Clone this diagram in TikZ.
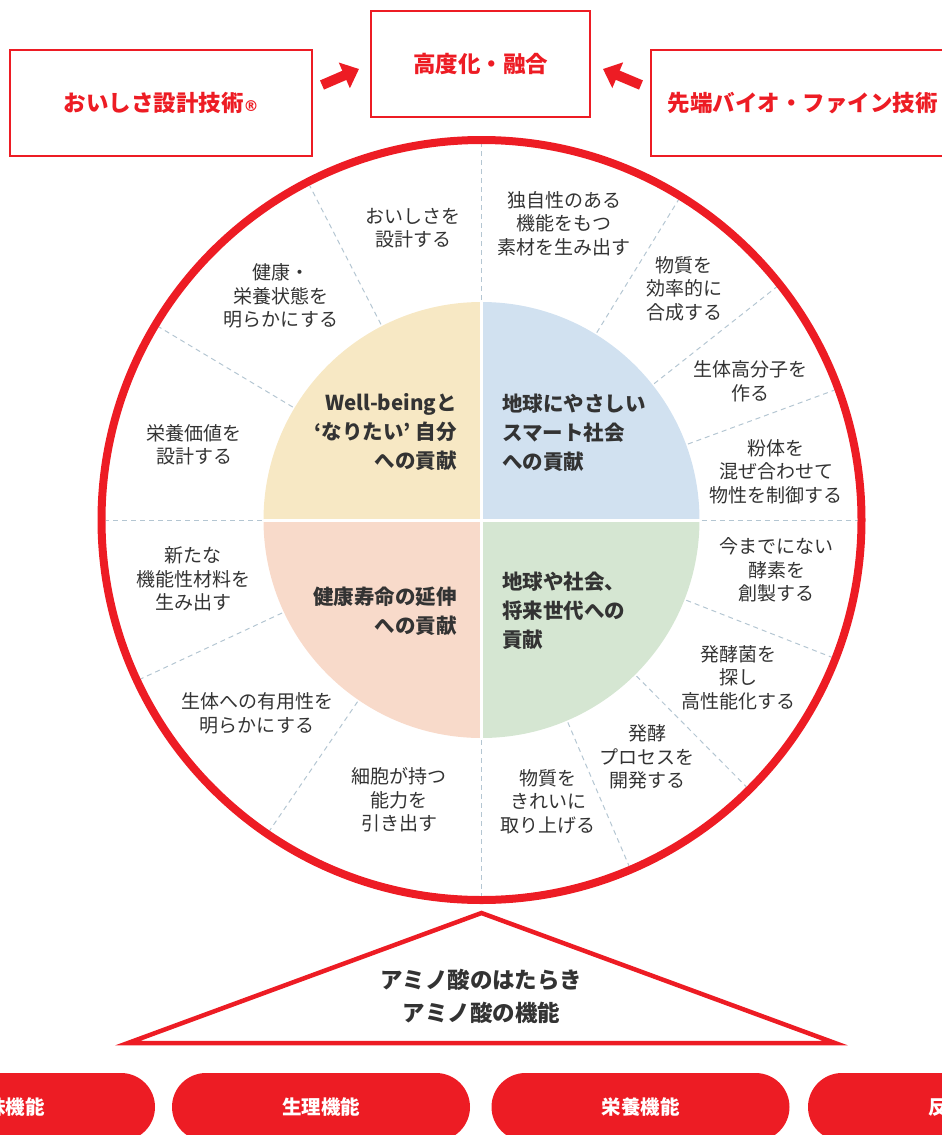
\documentclass[tikz,border=0pt]{standalone}
\usepackage{fontspec}
\newfontfamily\jp{Noto Sans CJK JP}
\newfontfamily\dv{DejaVu Sans}
\usetikzlibrary{arrows.meta,calc}
\definecolor{rd}{HTML}{ED1C24}
\definecolor{dk}{HTML}{333333}
\definecolor{qy}{HTML}{F7E8C4}
\definecolor{qb}{HTML}{D1E1F0}
\definecolor{qp}{HTML}{F8DACA}
\definecolor{qg}{HTML}{D5E6D2}
\definecolor{dsh}{HTML}{B4C6D2}
\begin{document}
\begin{tikzpicture}[x=1pt,y=-1pt,
 redbox/.style={draw=rd,line width=2.5pt,inner sep=0,text=rd,font=\jp\bfseries\fontsize{22.5}{27}\selectfont},
 sect/.style={inner sep=0,align=center,text=dk,font=\jp\fontsize{19}{23.5}\selectfont},
 quadl/.style={inner sep=0,text=dk,font=\jp\bfseries\fontsize{20.5}{29}\selectfont},
 trilabel/.style={inner sep=0,align=center,text=dk,font=\jp\bfseries\fontsize{22.5}{33}\selectfont},
 pill/.style={fill=rd,rounded corners=34pt,minimum width=298pt,minimum height=68pt,inner sep=0,text=white,font=\jp\bfseries\fontsize{19.5}{24}\selectfont},
 pilltext/.style={inner sep=0,text=white,font=\jp\bfseries\fontsize{19.5}{24}\selectfont},
 divider/.style={draw=dsh,line width=1pt,dash pattern=on 5pt off 4pt},
 blockarrow/.style={draw=rd,line width=10pt,-{Triangle[length=16pt,width=27pt]}}]
\useasboundingbox (0,0) rectangle (942,1135);
\clip (0,0) rectangle (942,1135);
\coordinate (c) at (481.5,520);

% top boxes
\node[redbox,minimum width=302pt,minimum height=106pt] (lbox) at (161,103) {おいしさ設計技術{\dv\bfseries\fontsize{15}{15}\selectfont ®}};
\node[redbox,minimum width=219pt,minimum height=106pt] (cbox) at (480.5,64) {高度化・融合};
\node[redbox,minimum width=303pt,minimum height=106pt] (rbox) at (802.5,103) {先端バイオ・ファイン技術};
\coordinate (a1s) at (322,85);
\coordinate (a1e) at (359,69);
\coordinate (a2s) at (641,85);
\coordinate (a2e) at (603,69);
\draw[blockarrow] (a1s) -- (a1e);
\draw[blockarrow] (a2s) -- (a2e);

% quadrants
\fill[qy] (c) -- ++(180:218pt) arc[start angle=180,end angle=90,radius=218pt] -- cycle;
\fill[qb] (c) -- ++(90:218pt) arc[start angle=90,end angle=0,radius=218pt] -- cycle;
\fill[qg] (c) -- ++(0:218pt) arc[start angle=0,end angle=-90,radius=218pt] -- cycle;
\fill[qp] (c) -- ++(270:218pt) arc[start angle=270,end angle=180,radius=218pt] -- cycle;
\draw[white,line width=3pt] ($(c)+(-220pt,0pt)$) -- ($(c)+(220pt,0pt)$);
\draw[white,line width=3pt] ($(c)+(0pt,-220pt)$) -- ($(c)+(0pt,220pt)$);

% dividers
\foreach \a in {0,20.2,38.3,58.4,90,117.2,149.1,180,205,235.7,270,293.1,314.8,338.6}
  \draw[divider] ($(c)+(\a:220pt)$) -- ($(c)+(\a:376pt)$);

% ring
\draw[rd,line width=8pt] (c) circle[radius=380pt];

% quadrant labels
\node[quadl,align=right,anchor=east] (qyl) at (457,431.7) {Well-beingと\\‘なりたい’ 自分\\への貢献};
\node[quadl,align=left,anchor=west] (qbl) at (502,433) {地球にやさしい\\スマート社会\\への貢献};
\node[quadl,align=right,anchor=east] (qpl) at (457,611.5) {健康寿命の延伸\\への貢献};
\node[quadl,align=left,anchor=west] (qgl) at (502,611) {地球や社会、\\将来世代への\\貢献};

% sector labels
\node[sect] (s1) at (413,228) {おいしさを\\設計する};
\node[sect] (s2) at (281,296) {健康・\\栄養状態を\\明らかにする};
\node[sect] (s3) at (194,445) {栄養価値を\\設計する};
\node[sect] (s4) at (564,223.5) {独自性のある\\機能をもつ\\素材を生み出す};
\node[sect] (s5) at (684,288.5) {物質を\\効率的に\\合成する};
\node[sect] (s6) at (750,381.5) {生体高分子を\\作る};
\node[sect] (s7) at (776,471.5) {粉体を\\混ぜ合わせて\\物性を制御する};
\node[sect] (s8) at (776.5,570) {今までにない\\酵素を\\創製する};
\node[sect] (s9) at (738,677.7) {発酵菌を\\探し\\高性能化する};
\node[sect] (s10) at (647,757) {発酵\\プロセスを\\開発する};
\node[sect] (s11) at (548,801.7) {物質を\\きれいに\\取り上げる};
\node[sect] (s12) at (399,800) {細胞が持つ\\能力を\\引き出す};
\node[sect] (s13) at (257,713.5) {生体への有用性を\\明らかにする};
\node[sect] (s14) at (193,579) {新たな\\機能性材料を\\生み出す};

% triangle
\coordinate (t1) at (481.5,913);
\coordinate (t2) at (835,1043);
\coordinate (t3) at (128,1043);
\draw[rd,line width=4.5pt,line join=miter] (t1) -- (t2) -- (t3) -- cycle;
\node[trilabel] (tl) at (481.5,996.5) {アミノ酸のはたらき\\アミノ酸の機能};

% pills
\node[pill] (p1) at (6,1107) {呈味機能};
\node[pill] (p2) at (321,1107) {生理機能};
\node[pill] (p3) at (640.5,1107) {栄養機能};
\node[pill] (p4) at (957,1107) {};
\node[pilltext,anchor=west] (p4t) at (928,1107) {反応性機能};
\end{tikzpicture}
\end{document}
